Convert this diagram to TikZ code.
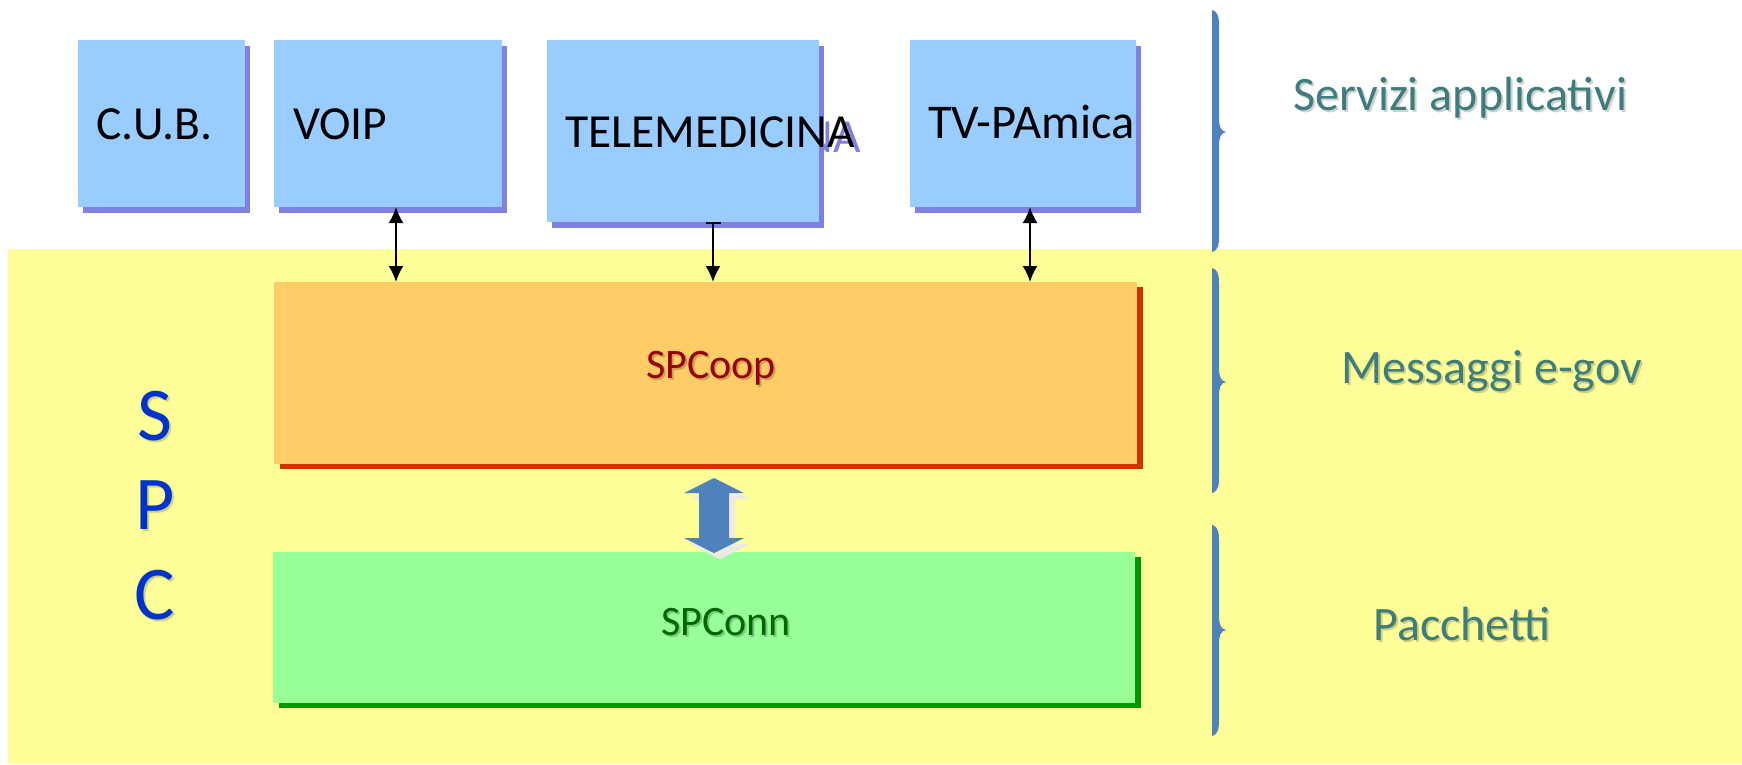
\documentclass[tikz,border=0pt]{standalone}
\usepackage{fontspec}
\setmainfont{Carlito}
\usetikzlibrary{arrows.meta,shadows}
\definecolor{boxblue}{HTML}{99CCFF}
\definecolor{shblue}{HTML}{8080E0}
\definecolor{bandyellow}{HTML}{FFFF99}
\definecolor{coopfill}{HTML}{FFCC66}
\definecolor{coopshadow}{HTML}{CC3300}
\definecolor{connfill}{HTML}{99FF99}
\definecolor{connshadow}{HTML}{009900}
\definecolor{labelteal}{HTML}{3E7D7D}
\definecolor{braceblue}{HTML}{4F81BD}
\definecolor{spcblue}{HTML}{0033CC}
\definecolor{coopred}{HTML}{990000}
\definecolor{conngreen}{HTML}{006600}
\definecolor{arrowshadow}{HTML}{EDEBDF}
\newcommand{\LayerBrace}[3]{%
  \fill[braceblue] (1212,#1) -- (1212,#3)
    .. controls (1219,{#3-2}) and (1219,{#3-8}) .. (1219,{#3-20})
    -- (1219,{#2+14}) .. controls (1219,{#2+5}) and (1221,{#2+1}) .. (1226,#2)
    .. controls (1221,{#2-1}) and (1219,{#2-5}) .. (1219,{#2-14})
    -- (1219,{#1+20}) .. controls (1219,{#1+8}) and (1219,{#1+2}) .. (1212,#1) -- cycle;}
\begin{document}
\begin{tikzpicture}[x=1pt,y=-1pt,
  svc/.style={fill=boxblue, draw=none, inner sep=0pt, outer sep=0pt, anchor=north west,
    drop shadow={shadow xshift=5pt, shadow yshift=-6pt, fill=shblue, opacity=1}},
  layerbox/.style={draw=none, inner sep=0pt, outer sep=0pt, anchor=north west},
  boxtext/.style={anchor=base west, inner sep=0pt, font=\fontsize{47.5}{50}\selectfont},
  sidetext/.style={anchor=base west, inner sep=0pt, text=labelteal, font=\fontsize{48}{50}\selectfont},
  sidesh/.style={anchor=base west, inner sep=0pt, text=black, opacity=0.18, font=\fontsize{48}{50}\selectfont},
  layertext/.style={anchor=base west, inner sep=0pt, font=\fontsize{42}{46}\selectfont},
  layersh/.style={anchor=base west, inner sep=0pt, text=black, opacity=0.2, font=\fontsize{42}{46}\selectfont},
  spctext/.style={anchor=base, inner sep=0pt, text=spcblue, font=\fontsize{76}{80}\selectfont},
  spcsh/.style={anchor=base, inner sep=0pt, text=black, opacity=0.18, font=\fontsize{76}{80}\selectfont},
  link/.style={line width=2pt, {Latex[length=16pt,width=15pt]}-{Latex[length=16pt,width=15pt]}},
  tlink/.style={line width=2pt, {Bar[width=15pt,line width=1.5pt]}-{Latex[length=16pt,width=15pt]}}
]
\useasboundingbox (0,0) rectangle (1742,764);
\fill[white] (0,0) rectangle (1742,764);
% SPC band
\fill[bandyellow] (8,249) rectangle (1742,764);

% ghost text shadow of TELEMEDICINA
\node[boxtext, text=shblue] (teleghost) at (571,152) {TELEMEDICINA};

% service boxes
\node[svc, minimum width=167pt, minimum height=167pt] (cub) at (78,40) {};
\node[svc, minimum width=228pt, minimum height=167pt] (voip) at (274,40) {};
\node[svc, minimum width=272pt, minimum height=182pt] (tele) at (547,40) {};
\node[svc, minimum width=226pt, minimum height=167pt] (tv) at (910,40) {};

\node[boxtext] (cubt) at (96,139) {C.U.B.};
\node[boxtext] (voipt) at (293,139) {VOIP};
\node[boxtext] (telet) at (565,147) {TELEMEDICINA};
\begin{scope}
\clip (910,40) rectangle (1136,207);
\node[boxtext, font=\fontsize{48.5}{50}\selectfont] (tvt) at (928,138) {TV-PAmica};
\end{scope}

% layers
\node[layerbox, fill=coopfill, minimum width=863pt, minimum height=182pt,
  drop shadow={shadow xshift=6pt, shadow yshift=-5pt, fill=coopshadow, opacity=1}] (coop) at (274,282) {};
\node[layerbox, fill=connfill, minimum width=862pt, minimum height=151pt,
  drop shadow={shadow xshift=6pt, shadow yshift=-5pt, fill=connshadow, opacity=1}] (conn) at (273,552) {};

\node[layersh] (coopsh) at (648,380) {SPCoop};
\node[layertext, text=coopred] (coopt) at (646,378) {SPCoop};
\node[layersh] (connsh) at (663,637) {SPConn};
\node[layertext, text=conngreen] (connt) at (661,635) {SPConn};

% connectors
\coordinate (xa) at (396,0);
\coordinate (xb) at (713,0);
\coordinate (xc) at (1030,0);
\draw[link] (voip.south -| xa) -- (coop.north -| xa);
\draw[tlink] (tele.south -| xb) -- (coop.north -| xb);
\draw[link] (tv.south -| xc) -- (coop.north -| xc);

% block double arrow between SPCoop and SPConn
\fill[arrowshadow] (720,484) -- (750,499) -- (735,499) -- (735,544) -- (750,544) -- (720,559)
  -- (690,544) -- (705,544) -- (705,499) -- (690,499) -- cycle;
\fill[braceblue] (714,478) -- (744,493) -- (729,493) -- (729,538) -- (744,538) -- (714,553)
  -- (684,538) -- (699,538) -- (699,493) -- (684,493) -- cycle;

% SPC letters
\node[spcsh] (ssh) at (157,442) {S};
\node[spctext] (sl) at (155,440) {S};
\node[spcsh] (psh) at (157,531) {P};
\node[spctext] (pl) at (155,529) {P};
\node[spcsh] (csh) at (157,621) {C};
\node[spctext] (cl) at (155,619) {C};

% braces
\LayerBrace{10}{132}{252}
\LayerBrace{268}{382}{493}
\LayerBrace{525}{630}{736}

% side labels
\node[sidesh] (s1sh) at (1295,112) {Servizi applicativi};
\node[sidetext] (s1) at (1293,110) {Servizi applicativi};
\node[sidesh] (s2sh) at (1343,385) {Messaggi e-gov};
\node[sidetext] (s2) at (1341,383) {Messaggi e-gov};
\node[sidesh] (s3sh) at (1375,642) {Pacchetti};
\node[sidetext] (s3) at (1373,640) {Pacchetti};
\end{tikzpicture}
\end{document}
